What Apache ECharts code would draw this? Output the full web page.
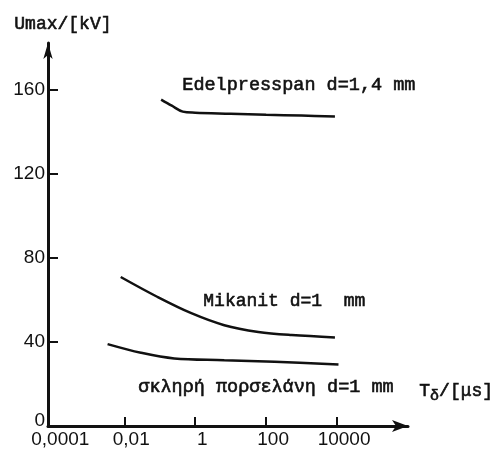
<!DOCTYPE html>
<html>
<head>
<meta charset="utf-8">
<script src="https://cdn.jsdelivr.net/npm/echarts@6/dist/echarts.min.js"></script>
<style>html,body{margin:0;padding:0;background:#fff}#c{width:503px;height:450px}</style>
</head>
<body>
<div id="c"></div>
<script>
// x values are log10(T / µs)
const xTickValues = [-4, -2, 0, 2, 4];
const xTickLabels = ['0,0001', '0,01', '1', '100', '10000'];
const yTickValues = [0, 40, 80, 120, 160];

const edelLogT = [-0.96, -0.66, -0.35, 0, 1, 2, 3, 3.94];
const edelU    = [155.1, 152.2, 149.4, 148.9, 148.4, 147.9, 147.5, 147.1];

const mikaLogT = [-2.10, -1.06, -0.11, 0.82, 1.78, 2.72, 3.94];
const mikaU    = [70.8, 61.3, 53.6, 47.9, 44.7, 43.2, 42.1];

const porcLogT = [-2.47, -1.53, -0.59, 0.82, 2.24, 4.04];
const porcU    = [38.9, 34.8, 32.1, 31.3, 30.5, 29.2];

const pairs = (xs, ys) => xs.map((x, i) => [x, ys[i]]);
const ink = '#111';
const mono = '"Liberation Mono", "DejaVu Sans Mono", monospace';
const sans = '"Liberation Sans", Arial, sans-serif';

const chart = echarts.init(document.getElementById('c'));
const lineSeries = (name, xs, ys) => ({
  name, type: 'line', data: pairs(xs, ys), smooth: 0.35, showSymbol: false,
  lineStyle: { color: ink, width: 2.5 }, silent: true
});
const txt = (text, left, top, size) => ({
  type: 'text', left, top,
  style: { text, font: size + 'px ' + mono, fill: ink, stroke: ink, lineWidth: 0.6 }
});
chart.setOption({
  backgroundColor: '#fff',
  animation: false,
  grid: { left: 48, top: 43, width: 360, height: 383, containLabel: false },
  xAxis: {
    type: 'value', min: -4.15, max: 6,
    axisLine: { show: true, onZero: false, lineStyle: { color: ink, width: 3 }, symbol: ['none', 'arrow'], symbolSize: [9, 16], symbolOffset: [0, 0] },
    axisTick: { show: true, inside: true, length: 9, lineStyle: { color: ink, width: 2 }, customValues: [-2, 0, 2, 4] },
    axisLabel: {
      customValues: xTickValues, color: ink, fontFamily: sans, fontSize: 19, margin: 4,
      padding: [0, 0, 0, 14],
      formatter: v => xTickLabels[xTickValues.indexOf(Math.round(v))] || ''
    },
    splitLine: { show: false }
  },
  yAxis: {
    type: 'value', min: 0, max: 182,
    axisLine: { show: true, onZero: false, lineStyle: { color: ink, width: 3 }, symbol: ['none', 'arrow'], symbolSize: [7, 16], symbolOffset: [0, 0] },
    axisTick: { show: true, inside: true, length: 10, lineStyle: { color: ink, width: 2 }, customValues: [40, 80, 120, 160] },
    axisLabel: {
      customValues: yTickValues, color: ink, fontFamily: sans, fontSize: 19, margin: 3,
      formatter: v => v === 0 ? '{z|0}' : String(v),
      rich: { z: { fontFamily: sans, fontSize: 19, color: ink, padding: [0, 0, 10, 0] } }
    },
    splitLine: { show: false }
  },
  series: [
    lineSeries('Edelpresspan', edelLogT, edelU),
    lineSeries('Mikanit', mikaLogT, mikaU),
    lineSeries('porcelain', porcLogT, porcU)
  ],
  graphic: [
    txt('Umax/[kV]', 14, 15, 18),
    txt('Edelpresspan d=1,4 mm', 182, 75, 18.5),
    txt('Mikanit d=1  mm', 203, 292, 18),
    txt('σκληρή πορσελάνη d=1 mm', 138, 377, 18.5),
    { type: 'text', left: 419, top: 382, style: {
        text: '{t|T}{s|δ}{t|/[μs]}',
        fill: ink, stroke: ink, lineWidth: 0.6,
        rich: {
          t: { font: '18px ' + mono, fill: ink },
          s: { font: '15px ' + mono, fill: ink, padding: [10, 0, 0, 0] }
        } } }
  ]
});
</script>
</body>
</html>
